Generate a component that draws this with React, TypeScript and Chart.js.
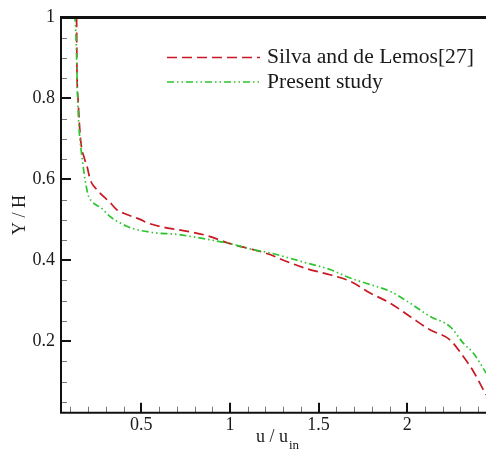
import React, { useEffect, useRef } from "react";
import { Chart, registerables } from "chart.js";
Chart.register(...registerables);

const seriesLabels = ["Silva and de Lemos[27]", "Present study"];

const redU = [0.135, 0.137, 0.143, 0.157, 0.18, 0.194, 0.211, 0.248, 0.323, 0.361, 0.418, 0.493, 0.53, 0.643, 0.7, 0.775, 0.869, 1.0, 1.132, 1.226, 1.301, 1.433, 1.564, 1.677, 1.79, 1.903, 2.015, 2.128, 2.241, 2.316, 2.373, 2.444, 2.47];
const redY = [1.0, 0.87, 0.8, 0.7, 0.65, 0.632, 0.6, 0.575, 0.543, 0.525, 0.513, 0.501, 0.493, 0.48, 0.476, 0.47, 0.461, 0.441, 0.426, 0.414, 0.4, 0.379, 0.364, 0.348, 0.319, 0.294, 0.261, 0.228, 0.203, 0.162, 0.125, 0.067, 0.045];

const greenU = [0.0, 0.125, 0.132, 0.141, 0.149, 0.16, 0.183, 0.199, 0.22, 0.286, 0.305, 0.418, 0.568, 0.7, 0.775, 0.906, 1.0, 1.132, 1.226, 1.32, 1.433, 1.564, 1.677, 1.79, 1.903, 2.015, 2.128, 2.241, 2.316, 2.373, 2.444, 2.47];
const greenY = [1.0, 0.998, 0.947, 0.798, 0.724, 0.674, 0.599, 0.563, 0.546, 0.525, 0.515, 0.484, 0.468, 0.464, 0.459, 0.449, 0.441, 0.426, 0.418, 0.407, 0.393, 0.377, 0.356, 0.34, 0.323, 0.294, 0.261, 0.236, 0.195, 0.17, 0.121, 0.1];

const xTicks = [0.5, 1, 1.5, 2];
const yTicks = [0.2, 0.4, 0.6, 0.8, 1];
const xMinorStep = 0.1;
const yMinorStep = 0.05;
const xRange = [0.047, 2.444];
const yRange = [0.023, 1.0];
const xTitle = "u / u";
const xTitleSub = "in";
const yTitle = "Y / H";

const RED = "rgb(200,24,34)";
const GREEN = "rgb(46,196,46)";
const SERIF = "'Liberation Serif', 'Times New Roman', serif";

const decorPlugin = {
  id: "decor",
  afterDraw(chart: any) {
    const { ctx, chartArea: a, scales } = chart;
    const x = scales.x;
    const y = scales.y;
    ctx.save();
    // minor ticks
    ctx.strokeStyle = "#777";
    ctx.lineWidth = 1;
    ctx.beginPath();
    for (let k = Math.ceil(x.min / xMinorStep); k * xMinorStep <= x.max + 1e-9; k++) {
      const px = Math.round(x.getPixelForValue(k * xMinorStep)) + 0.5;
      ctx.moveTo(px, a.bottom);
      ctx.lineTo(px, a.bottom - 6);
    }
    for (let k = Math.ceil(y.min / yMinorStep); k * yMinorStep <= y.max + 1e-9; k++) {
      const py = Math.round(y.getPixelForValue(k * yMinorStep)) + 0.5;
      ctx.moveTo(a.left, py);
      ctx.lineTo(a.left + 6, py);
    }
    ctx.stroke();
    // major ticks
    ctx.strokeStyle = "#111";
    ctx.lineWidth = 2;
    ctx.beginPath();
    xTicks.forEach((v) => {
      const px = Math.round(x.getPixelForValue(v));
      ctx.moveTo(px, a.bottom);
      ctx.lineTo(px, a.bottom - 10);
    });
    yTicks.forEach((v) => {
      const py = Math.round(y.getPixelForValue(v));
      ctx.moveTo(a.left, py);
      ctx.lineTo(a.left + 10, py);
    });
    ctx.stroke();
    // axis lines
    ctx.strokeStyle = "#111";
    ctx.lineWidth = 2;
    ctx.beginPath();
    ctx.moveTo(a.left, a.top);
    ctx.lineTo(a.left, a.bottom);
    ctx.lineTo(a.right, a.bottom);
    ctx.stroke();
    ctx.lineWidth = 3;
    ctx.beginPath();
    ctx.moveTo(a.left - 1, a.top);
    ctx.lineTo(a.right, a.top);
    ctx.stroke();

    // legend
    const ds = chart.data.datasets;
    const rows = [57.5, 82];
    ds.forEach((d: any, i: number) => {
      ctx.save();
      ctx.strokeStyle = d.borderColor;
      ctx.lineWidth = d.borderWidth;
      ctx.setLineDash(d.borderDash || []);
      ctx.beginPath();
      ctx.moveTo(167, rows[i]);
      ctx.lineTo(260, rows[i]);
      ctx.stroke();
      ctx.restore();
      ctx.fillStyle = "#1a1a1a";
      ctx.font = `21.6px ${SERIF}`;
      ctx.textAlign = "left";
      ctx.textBaseline = "middle";
      ctx.fillText(d.label, 267, rows[i]);
    });

    // axis titles
    ctx.fillStyle = "#1a1a1a";
    ctx.font = `18px ${SERIF}`;
    ctx.textBaseline = "alphabetic";
    const mainW = ctx.measureText(xTitle).width;
    ctx.font = `13px ${SERIF}`;
    const subW = ctx.measureText(xTitleSub).width;
    const cx = 277;
    const sx = cx - (mainW + subW) / 2;
    ctx.font = `18px ${SERIF}`;
    ctx.textAlign = "left";
    ctx.fillText(xTitle, sx, 442);
    ctx.font = `13px ${SERIF}`;
    ctx.fillText(xTitleSub, sx + mainW + 1, 449);

    ctx.save();
    ctx.translate(20, (a.top + a.bottom) / 2);
    ctx.rotate(-Math.PI / 2);
    ctx.font = `18px ${SERIF}`;
    ctx.textAlign = "center";
    ctx.textBaseline = "middle";
    ctx.fillText(yTitle, 0, 0);
    ctx.restore();

    ctx.restore();
  },
};

export default function App() {
  const ref = useRef<HTMLCanvasElement | null>(null);
  useEffect(() => {
    if (!ref.current) return;
    const chart = new Chart(ref.current, {
      type: "line",
      data: {
        datasets: [
          {
            label: seriesLabels[0],
            data: redU.map((u, i) => ({ x: u, y: redY[i] })),
            borderColor: RED,
            borderWidth: 1.7,
            borderDash: [10, 5],
            pointRadius: 0,
            fill: false,
            cubicInterpolationMode: "monotone",
            order: 1,
          },
          {
            label: seriesLabels[1],
            data: greenU.map((u, i) => ({ x: u, y: greenY[i] })),
            borderColor: GREEN,
            borderWidth: 1.7,
            borderDash: [7, 3, 1.5, 3, 1.5, 3],
            pointRadius: 0,
            fill: false,
            cubicInterpolationMode: "monotone",
            order: 0,
          },
        ],
      },
      options: {
        animation: false,
        responsive: false,
        events: [],
        layout: { padding: { top: 17.5, left: 0, right: 0, bottom: 0 } },
        plugins: { legend: { display: false }, tooltip: { enabled: false }, title: { display: false } },
        scales: {
          x: {
            type: "linear",
            min: xRange[0],
            max: xRange[1],
            grid: { display: false, drawTicks: false },
            border: { display: false },
            ticks: {
              font: { family: SERIF, size: 18 },
              color: "#1a1a1a",
              padding: 2,
              maxRotation: 0,
              autoSkip: false,
              callback: (v: any) => String(v),
            },
            afterBuildTicks: (s: any) => {
              s.ticks = xTicks.map((value) => ({ value }));
            },
            afterFit: (s: any) => {
              s.height = 38.3;
            },
          },
          y: {
            type: "linear",
            min: yRange[0],
            max: yRange[1],
            grid: { display: false, drawTicks: false },
            border: { display: false },
            ticks: {
              font: { family: SERIF, size: 18 },
              color: "#1a1a1a",
              padding: 6,
              autoSkip: false,
              callback: (v: any) => String(v),
            },
            afterBuildTicks: (s: any) => {
              s.ticks = yTicks.map((value) => ({ value }));
            },
            afterFit: (s: any) => {
              s.width = 61;
            },
          },
        },
      },
      plugins: [decorPlugin],
    });
    return () => chart.destroy();
  }, []);
  return (
    <canvas
      ref={ref}
      width={486}
      height={451}
      style={{ position: "fixed", left: 0, top: 0, width: 486, height: 451, background: "#fff" }}
    />
  );
}
